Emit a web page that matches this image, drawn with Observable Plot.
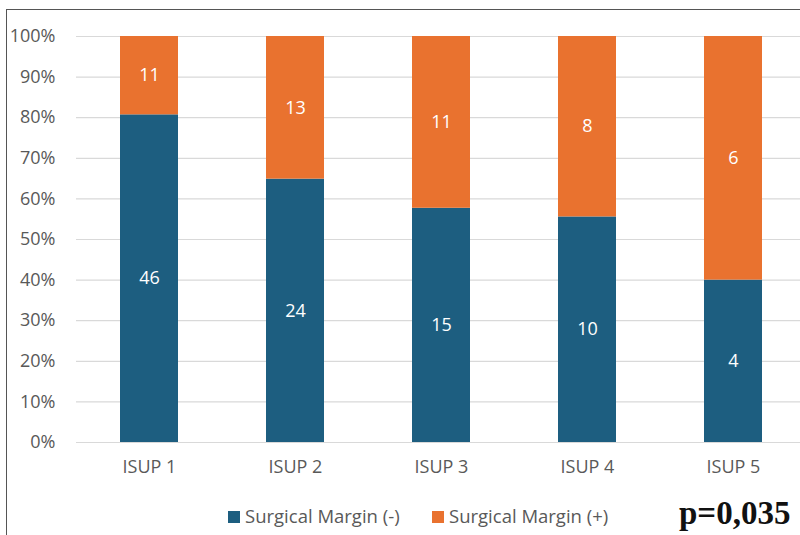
<!DOCTYPE html>
<html><head><meta charset="utf-8">
<script src="https://cdn.jsdelivr.net/npm/d3@7"></script>
<script src="https://cdn.jsdelivr.net/npm/@observablehq/plot@0.6"></script>
<style>
body{margin:0;background:#fff;font-family:"Open Sans",sans-serif;}
#wrap{position:relative;width:800px;height:535px;overflow:hidden;}
#frame{position:absolute;left:6px;top:9px;width:800px;height:600px;border-left:1.5px solid #555;border-top:1.5px solid #555;box-sizing:border-box;}
#chart{position:absolute;left:0;top:0;}
.leg{position:absolute;top:503px;font-size:18.5px;color:#595959;white-space:nowrap;}
.sw{display:inline-block;width:12px;height:12px;margin-right:5px;vertical-align:0px;}
#pval{position:absolute;left:679px;top:495px;font-family:"Liberation Serif",serif;font-weight:bold;font-size:33px;color:#111;}
</style></head>
<body><div id="wrap"><div id="frame"></div><div id="chart"></div>
<div class="leg" style="left:228px"><span class="sw" style="background:#1d5e80"></span>Surgical Margin (-)</div>
<div class="leg" style="left:432px"><span class="sw" style="background:#e9722f"></span>Surgical Margin (+)</div>
<div id="pval">p=0,035</div>
</div>
<script>
const categories = ["ISUP 1","ISUP 2","ISUP 3","ISUP 4","ISUP 5"];
const seriesNames = ["Surgical Margin (-)","Surgical Margin (+)"];
const marginNeg = [46,24,15,10,4];
const marginPos = [11,13,11,8,6];
const yTicks = [0,0.1,0.2,0.3,0.4,0.5,0.6,0.7,0.8,0.9,1];
const colors = ["#1d5e80","#e9722f"];

const data = [];
categories.forEach((c,i)=>data.push({cat:c, series:seriesNames[0], count:marginNeg[i]}));
categories.forEach((c,i)=>data.push({cat:c, series:seriesNames[1], count:marginPos[i]}));

const chart = Plot.plot({
  width:800, height:490,
  marginLeft:76, marginRight:0, marginTop:36, marginBottom:48,
  style:{fontFamily:"Open Sans, sans-serif", fontSize:"18px", color:"#595959", background:"transparent"},
  x:{domain:categories, range:[76,806], paddingInner:0.6, paddingOuter:0.3, label:null},
  y:{domain:[0,1], label:null},
  color:{domain:seriesNames, range:colors},
  marks:[
    Plot.ruleY(yTicks,{stroke:"#d9d9d9", strokeWidth:1.2}),
    Plot.barY(data, Plot.stackY({x:"cat", y:"count", fill:"series", z:"series", offset:"normalize", order:seriesNames})),
    Plot.text(data, Plot.stackY({x:"cat", y:"count", z:"series", offset:"normalize", order:seriesNames, text:"count", fill:"white", fontSize:18})),
    Plot.axisX({tickSize:0, tickPadding:18, fontSize:18}),
    Plot.axisY({ticks:yTicks, tickFormat:d=>Math.round(d*100)+"%", tickSize:0, tickPadding:21, fontSize:18})
  ]
});
document.getElementById("chart").appendChild(chart);
</script>
</body></html>
